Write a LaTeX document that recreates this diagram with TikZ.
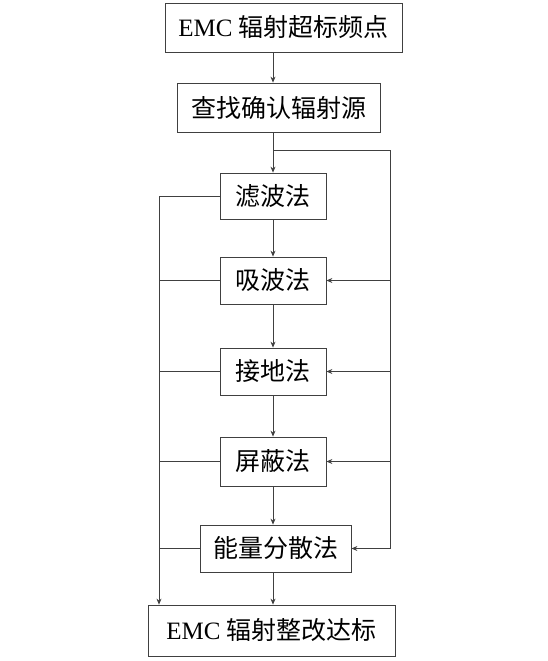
\documentclass[tikz,border=0pt]{standalone}
\usepackage{fontspec}
\setmainfont{Liberation Serif}
\newfontfamily\cjk{Noto Sans CJK SC}
\usetikzlibrary{arrows.meta}

\begin{document}
\begin{tikzpicture}[x=1pt,y=-1pt,>={Stealth[length=6pt,width=5pt]},
  every node/.style={draw=black!75,line width=0.8pt,inner sep=0pt,
    font=\fontsize{25}{28}\selectfont}]
\useasboundingbox (0,0) rectangle (548,661);
\node[minimum width=237pt,minimum height=49pt] (A) at (283.5,27.5) {EMC {\cjk 辐射超标频点}};
\node[minimum width=203pt,minimum height=49pt] (B) at (278.5,107.5) {\cjk 查找确认辐射源};
\node[minimum width=106pt,minimum height=46pt] (C) at (273,196) {\cjk 滤波法};
\node[minimum width=106pt,minimum height=47pt] (D) at (273,280.5) {\cjk 吸波法};
\node[minimum width=106pt,minimum height=47pt] (E) at (273,371.5) {\cjk 接地法};
\node[minimum width=106pt,minimum height=49pt] (F) at (273,461.5) {\cjk 屏蔽法};
\node[minimum width=151pt,minimum height=47pt] (G) at (275.5,548.5) {\cjk 能量分散法};
\node[minimum width=247pt,minimum height=51pt] (H) at (271.5,630.5) {EMC {\cjk 辐射整改达标}};

\coordinate (S) at (273,150);
\coordinate (R) at (390,150);
\coordinate (L) at (159,196);

\begin{scope}[draw=black!75,line width=0.7pt]
\draw[->] (C.north |- A.south) -- (C.north |- B.north);
\draw[->] (C.north |- B.south) -- (C.north);
\draw[->] (C) -- (D);
\draw[->] (D) -- (E);
\draw[->] (E) -- (F);
\draw[->] (F.south) -- (F.south |- G.north);
\draw[->] (F.south |- G.south) -- (F.south |- H.north);

\draw (S) -- (R) -- (R |- G.east);
\draw[->] (R |- D.east) -- (D.east);
\draw[->] (R |- E.east) -- (E.east);
\draw[->] (R |- F.east) -- (F.east);
\draw[->] (R |- G.east) -- (G.east);

\draw (C.west) -- (L);
\draw[->] (L) -- (L |- H.north);
\draw (D.west) -- (L |- D.west);
\draw (E.west) -- (L |- E.west);
\draw (F.west) -- (L |- F.west);
\draw (G.west) -- (L |- G.west);
\end{scope}
\end{tikzpicture}
\end{document}
